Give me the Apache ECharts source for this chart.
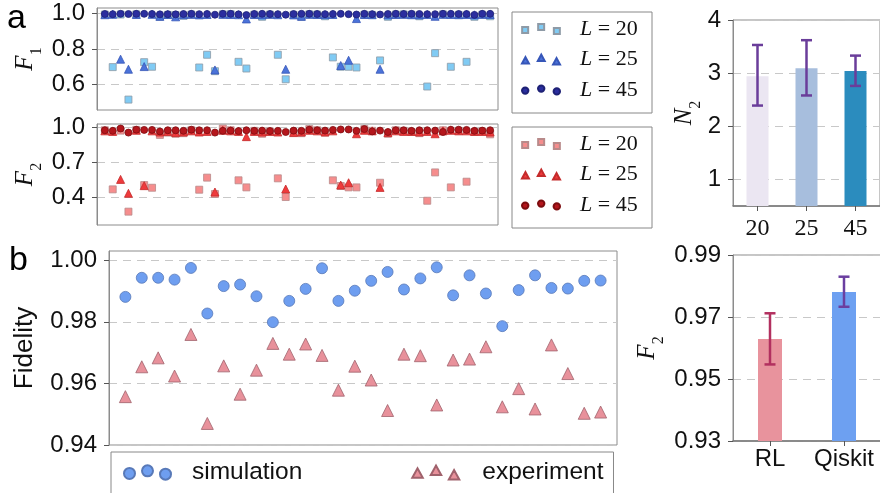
<!DOCTYPE html>
<html>
<head>
<meta charset="utf-8">
<script src="https://cdn.jsdelivr.net/npm/echarts@6/dist/echarts.min.js"></script>
<style>
html,body{margin:0;padding:0;background:#fff}
#main{width:880px;height:493px}
</style>
</head>
<body>
<div id="main"></div>
<script>
// panel a : 50 runs, fidelity F1 / F2 for each L
var f1L20 = [0.995,0.697,0.995,0.513,0.996,0.725,0.699,0.982,0.993,0.992,0.988,0.995,0.695,0.767,0.674,0.996,0.997,0.727,0.689,0.994,0.982,0.995,0.767,0.628,0.993,0.982,0.996,0.995,0.985,0.752,0.699,0.699,0.695,0.994,0.993,0.735,0.982,0.995,0.996,0.994,0.985,0.587,0.776,0.996,0.699,0.993,0.727,0.982,0.994,0.985];
var f1L25 = [0.994,0.996,0.742,0.685,0.995,0.700,0.996,0.985,0.995,0.982,0.994,0.996,0.993,0.995,0.681,0.996,0.995,0.994,0.970,0.995,0.993,0.996,0.994,0.685,0.993,0.985,0.996,0.995,0.994,0.995,0.706,0.736,0.972,0.995,0.994,0.685,0.993,0.995,0.996,0.994,0.993,0.995,0.985,0.996,0.995,0.994,0.995,0.993,0.996,0.995];
var f1L45 = [0.998,0.997,0.999,0.998,0.999,0.999,0.998,0.996,0.997,0.996,0.998,0.999,0.997,0.998,0.994,0.999,0.999,0.996,0.992,0.998,0.999,0.998,0.997,0.994,0.998,0.999,0.999,0.998,0.997,0.998,0.999,0.997,0.995,0.999,0.997,0.995,0.998,0.999,0.998,0.999,0.998,0.997,0.997,0.999,0.999,0.998,0.998,0.993,0.999,0.999];
var f2L20 = [0.975,0.466,0.972,0.274,0.978,0.503,0.480,0.935,0.955,0.945,0.950,0.975,0.463,0.567,0.426,0.990,0.975,0.544,0.483,0.970,0.945,0.965,0.561,0.400,0.955,0.950,0.985,0.975,0.955,0.544,0.495,0.483,0.483,0.985,0.970,0.523,0.945,0.975,0.970,0.960,0.950,0.368,0.612,0.975,0.483,0.970,0.532,0.960,0.965,0.940];
var f2L25 = [0.970,0.965,0.552,0.432,0.975,0.498,0.970,0.960,0.965,0.955,0.960,0.970,0.960,0.965,0.443,0.975,0.970,0.965,0.920,0.965,0.960,0.965,0.960,0.469,0.955,0.960,0.975,0.970,0.960,0.970,0.503,0.523,0.945,0.975,0.970,0.483,0.955,0.970,0.965,0.965,0.960,0.965,0.945,0.970,0.975,0.970,0.970,0.965,0.965,0.960];
var f2L45 = [0.975,0.970,0.990,0.955,0.980,0.978,0.978,0.965,0.975,0.975,0.970,0.980,0.975,0.975,0.955,0.970,0.972,0.968,0.975,0.970,0.972,0.968,0.970,0.960,0.972,0.970,0.980,0.975,0.972,0.978,0.982,0.982,0.970,0.985,0.965,0.972,0.960,0.975,0.975,0.970,0.975,0.975,0.972,0.960,0.980,0.980,0.978,0.970,0.972,0.975];
var f1Ticks = [0.6, 0.8, 1.0];
var f2Ticks = [0.4, 0.7, 1.0];

// N2 bars
var n2Cats = ['20', '25', '45'];
var n2Vals = [2.94, 3.09, 3.04];
var n2Low = [2.39, 2.58, 2.76];
var n2High = [3.53, 3.62, 3.33];
var n2Ticks = [1, 2, 3, 4];

// panel b : 30 circuits
var simVals = [0.9881,0.9943,0.9943,0.9937,0.9975,0.9827,0.9916,0.9921,0.9883,0.9799,0.9868,0.9907,0.9974,0.9868,0.9901,0.9933,0.9962,0.9905,0.9941,0.9977,0.9886,0.9951,0.9892,0.9786,0.9903,0.9951,0.9910,0.9908,0.9933,0.9934];
var expVals = [0.9557,0.9654,0.9683,0.9624,0.9759,0.9470,0.9657,0.9565,0.9643,0.9730,0.9695,0.9728,0.9691,0.9578,0.9656,0.9611,0.9512,0.9695,0.9690,0.9530,0.9676,0.9679,0.9719,0.9524,0.9583,0.9517,0.9725,0.9632,0.9503,0.9507];
var bTicks = [0.94, 0.96, 0.98, 1.00];

// F2 comparison bars
var cmpCats = ['RL', 'Qiskit'];
var cmpVals = [0.9629, 0.9781];
var cmpLow = [0.9547, 0.9733];
var cmpHigh = [0.9712, 0.9830];
var cmpTicks = [0.93, 0.95, 0.97, 0.99];

var pairs = function(arr){
	return arr.map(function(v, i){ return [i + 1, v]; });
};

var sqIcon = 'path://M0,3h6v6h-6z M16,0h6v6h-6z M31.7,4h6v6h-6z';
var triIcon = 'path://M0,9L3.5,2.5L7,9Z M16,6.5L19.5,0L23,6.5Z M31.5,10L35,3.5L38.5,10Z';
var dotIcon = 'path://M0,5.2a3.2,3.2 0 1,0 6.4,0a3.2,3.2 0 1,0 -6.4,0Z M16,3.2a3.2,3.2 0 1,0 6.4,0a3.2,3.2 0 1,0 -6.4,0Z M31.6,6a3.2,3.2 0 1,0 6.4,0a3.2,3.2 0 1,0 -6.4,0Z';
var simIcon = 'path://M0,8.1a5.5,5.5 0 1,0 11,0a5.5,5.5 0 1,0 -11,0Z M18,5.5a5.5,5.5 0 1,0 11,0a5.5,5.5 0 1,0 -11,0Z M36,8.8a5.5,5.5 0 1,0 11,0a5.5,5.5 0 1,0 -11,0Z';
var expIcon = 'path://M0,11.6L5,2.6L10,11.6Z M17.7,9L22.7,0L27.7,9Z M35,13.3L40,4.3L45,13.3Z';

var legendNames = {
	a20:'{g| }{l|L} = 20', a25:'{g| }{l|L} = 25', a45:'{g| }{l|L} = 45',
	b20:'{g| }{l|L} = 20', b25:'{g| }{l|L} = 25', b45:'{g| }{l|L} = 45',
	sim:'{g| }simulation', exp:'{h| }experiment'
};

var sans = 'Liberation Sans';
var serif = 'Liberation Serif';
var dash = {show:true, lineStyle:{color:'#c8c8c8', type:[8,6], width:1}};

//坐标轴 y
var yVal = function(grid, min, max, ticks, digits, extra){
	var ax = {
		type:'value', gridIndex:grid, min:min, max:max,
		axisLine:{show:true, lineStyle:{color:'#8c8c8c'}},
		axisTick:{show:true, length:5, customValues:ticks, lineStyle:{color:'#555'}},
		axisLabel:{show:true, customValues:ticks, margin:12, color:'#111', fontSize:24, fontFamily:sans,
			formatter:function(v){ return v.toFixed(digits); }},
		splitLine:dash
	};
	for (var k in extra) ax[k] = extra[k];
	return ax;
};
var subName = function(main, sub){
	return {
		name:'{i|' + main + '}{s|' + sub + '}',
		nameLocation:'middle', nameRotate:90,
		nameTextStyle:{rich:{
			i:{fontFamily:serif, fontStyle:'italic', fontSize:25, color:'#111', lineHeight:24, verticalAlign:'top'},
			s:{fontFamily:serif, fontSize:16, color:'#111', lineHeight:32, verticalAlign:'bottom'}
		}}
	};
};
var xHidden = function(grid, max){
	return {type:'value', gridIndex:grid, min:0, max:max, show:false, splitLine:{show:false}};
};

//误差棒
var errRender = function(params, api){
	var x = api.value(0);
	var lo = api.coord([x, api.value(1)]);
	var hi = api.coord([x, api.value(2)]);
	var w = 5.5;
	var st = {stroke:api.visual('color'), lineWidth:2.5, fill:null};
	return {type:'group', children:[
		{type:'line', shape:{x1:lo[0], y1:lo[1], x2:hi[0], y2:hi[1]}, style:st},
		{type:'line', shape:{x1:lo[0]-w, y1:lo[1], x2:lo[0]+w, y2:lo[1]}, style:st},
		{type:'line', shape:{x1:hi[0]-w, y1:hi[1], x2:hi[0]+w, y2:hi[1]}, style:st}
	]};
};

var catAxis = function(grid, cats, font, margin){
	return {
		type:'category', gridIndex:grid, data:cats,
		axisLine:{show:true, lineStyle:{color:'#777', width:1.5}},
		axisTick:{show:true, alignWithLabel:true, length:5, lineStyle:{color:'#555'}},
		axisLabel:{color:'#111', fontSize:24, fontFamily:font, margin:margin, interval:0,
			showMinLabel:true, showMaxLabel:true, hideOverlap:false},
		splitLine:{show:false}
	};
};

var n2BarColors = ['#ebe6f2', '#a7bedd', '#2b8cbe'];
var cmpBarColors = ['#e8939d', '#6da0f1'];
var cmpErrColors = ['#b2305f', '#6b3fa0'];

var dom = document.getElementById('main');
var myChart = echarts.init(dom, null, {renderer:'canvas'});

var boxGrid = {show:true, borderColor:'#8c8c8c', borderWidth:1, backgroundColor:'transparent', containLabel:false, outerBoundsMode:'none'};
var mkGrid = function(l, t, w, h){
	var g = {left:l, top:t, width:w, height:h};
	for (var k in boxGrid) g[k] = boxGrid[k];
	return g;
};

var legendA = function(top, prefix){
	return {
		orient:'vertical', left:509, top:top, selectedMode:false,
		itemWidth:38, itemHeight:10, itemGap:8.5,
		padding:[9,10,9,12],
		data:[{name:prefix + '20', icon:sqIcon}, {name:prefix + '25', icon:triIcon}, {name:prefix + '45', icon:dotIcon}],
		formatter:function(n){ return legendNames[n]; },
		textStyle:{color:'#111', fontFamily:serif, fontSize:22, lineHeight:22,
			rich:{
				g:{width:15, fontSize:22},
				l:{fontFamily:serif, fontStyle:'italic', fontSize:22, color:'#111'}
			}}
	};
};
// 图例边框
var frame = function(x, y, w, h){
	return {type:'rect', left:x, top:y, shape:{width:w, height:h}, style:{fill:null, stroke:'#888', lineWidth:1}, silent:true};
};

var sc = function(name, xi, data, symbol, size, color, border){
	return {
		name:name, type:'scatter', xAxisIndex:xi, yAxisIndex:xi, data:pairs(data),
		symbol:symbol, symbolSize:size,
		itemStyle:{color:color, borderColor:border, borderWidth:0.8, opacity:1},
		emphasis:{disabled:true}
	};
};

var option = {
	animation:false,
	textStyle:{fontFamily:sans},
	title:[
		{text:'a', left:7, top:2, padding:0, textStyle:{fontSize:34, fontWeight:'normal', color:'#000', fontFamily:sans}},
		{text:'b', left:9, top:244, padding:0, textStyle:{fontSize:34, fontWeight:'normal', color:'#000', fontFamily:sans}}
	],
	graphic:[frame(509.5, 9.5, 140, 101), frame(509.5, 124.5, 140, 101)],
	grid:[
		mkGrid(97, 8, 401, 102),
		mkGrid(97, 124, 401, 101),
		mkGrid(733, 20, 147, 186),
		mkGrid(109, 251, 508, 194),
		mkGrid(733, 255, 148, 186)
	],
	xAxis:[
		xHidden(0, 51),
		xHidden(1, 51),
		catAxis(2, n2Cats, serif, 11),
		xHidden(3, 31),
		catAxis(4, cmpCats, sans, 6)
	],
	yAxis:[
		yVal(0, 0.454, 1.032, f1Ticks, 1, subName('F', '1')),
		yVal(1, 0.159, 1.029, f2Ticks, 1, subName('F', '2')),
		yVal(2, 0.5, 4, n2Ticks, 0, subName('N', '2')),
		yVal(3, 0.94, 1.003, bTicks, 2, {name:'Fidelity', nameLocation:'middle', nameRotate:90,
			nameTextStyle:{fontSize:26, fontFamily:sans, color:'#111'}}),
		yVal(4, 0.93, 0.99, cmpTicks, 2, subName('F', '2'))
	],
	legend:[
		legendA(9, 'a'),
		legendA(124, 'b'),
		{
			orient:'horizontal', left:111, top:452, selectedMode:false,
			itemWidth:47, itemHeight:14.3, itemGap:109,
			padding:[8,10,12,12], borderColor:'#888', borderWidth:1, borderRadius:0,
			data:[{name:'sim', icon:simIcon}, {name:'exp', icon:expIcon}],
			formatter:function(n){ return legendNames[n]; },
			textStyle:{color:'#111', fontFamily:sans, fontSize:24.5,
				rich:{g:{width:16, fontSize:24.5}, h:{width:18, fontSize:24.5}}}
		}
	],
	series:[
		sc('a20', 0, f1L20, 'rect', 7, '#80cbf4', '#8e9aa6'),
		sc('a25', 0, f1L25, 'triangle', 8, '#4b73d9', '#3656b8'),
		sc('a45', 0, f1L45, 'circle', 7, '#2b2e9f', '#1e2175'),
		sc('b20', 1, f2L20, 'rect', 7, '#f68d8d', '#b88a8a'),
		sc('b25', 1, f2L25, 'triangle', 8, '#ef3a3c', '#c42b2b'),
		sc('b45', 1, f2L45, 'circle', 7, '#b4161c', '#7d0d10'),
		{
			type:'bar', xAxisIndex:2, yAxisIndex:2, barWidth:22, z:2,
			data:n2Vals.map(function(v, i){ return {value:v, itemStyle:{color:n2BarColors[i]}}; })
		},
		{
			type:'custom', xAxisIndex:2, yAxisIndex:2, renderItem:errRender, z:5, clip:false,
			encode:{x:0, y:[1, 2]}, itemStyle:{color:'#6a3d9a'},
			data:n2Cats.map(function(c, i){ return [i, n2Low[i], n2High[i]]; })
		},
		sc('sim', 3, simVals, 'circle', 11, '#6e9ef0', '#5879b8'),
		sc('exp', 3, expVals, 'triangle', 12, '#e8919b', '#a0626c'),
		{
			type:'bar', xAxisIndex:4, yAxisIndex:4, barWidth:24, z:2,
			data:cmpVals.map(function(v, i){ return {value:v, itemStyle:{color:cmpBarColors[i]}}; })
		},
		{
			type:'custom', xAxisIndex:4, yAxisIndex:4, renderItem:errRender, z:5, clip:false,
			encode:{x:0, y:[1, 2]},
			data:cmpCats.map(function(c, i){ return {value:[i, cmpLow[i], cmpHigh[i]], itemStyle:{color:cmpErrColors[i]}}; })
		}
	]
};
// name gaps
option.yAxis[0].nameGap = 52;
option.yAxis[1].nameGap = 52;
option.yAxis[2].nameGap = 28;
option.yAxis[3].nameGap = 71;
option.yAxis[4].nameGap = 66;

if (option && typeof option === 'object') {
	myChart.setOption(option, true);
}
</script>
</body>
</html>
